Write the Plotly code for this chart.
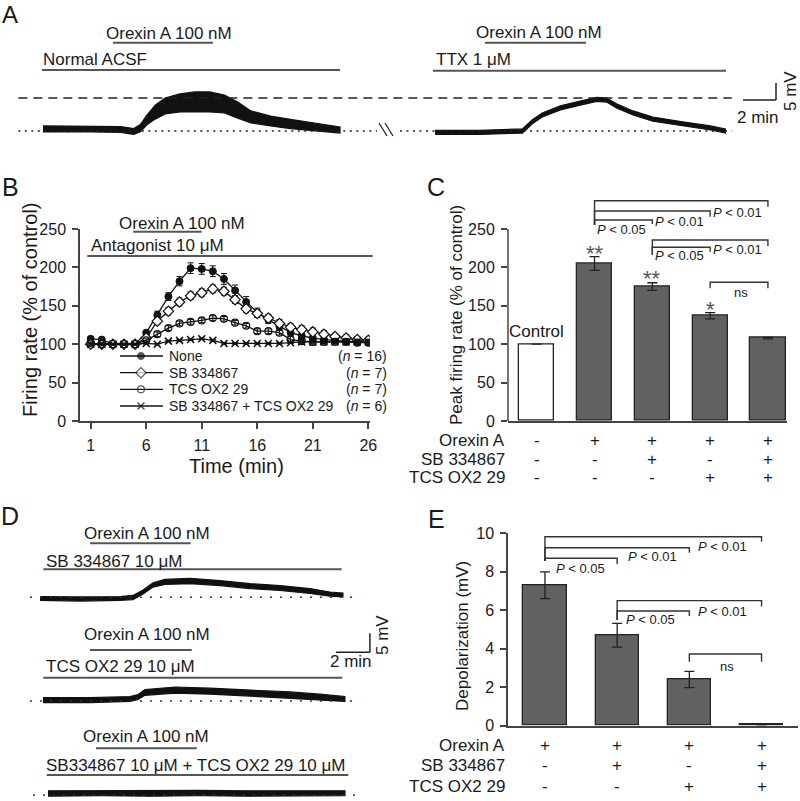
import plotly.graph_objects as go

W, H = 800, 801
FONT = "Liberation Sans, Arial, sans-serif"
INK = "#1a1a1a"
AX = "#444444"
BARGRAY = "#616161"
PROTO = "#555555"


def px(x):
    return x / W


def py(y):
    return 1 - y / H


# ---------------- DATA ----------------
# Panel A: membrane potential envelopes (mV relative to baseline) vs time (min)
a1_time = [0, 2.9, 4.7, 5.5, 5.9, 6.3, 6.8, 7.4, 8.3, 9.2, 10.1, 11.0, 11.8, 12.6, 13.8, 15.0, 16.2, 17.1, 18.0]
a1_upper = [1.5, 1.5, 1.3, 0.7, 1.9, 4.7, 7.6, 9.7, 10.9, 11.5, 11.5, 10.6, 8.5, 5.9, 4.4, 3.4, 2.6, 1.9, 1.2]
a1_lower = [-0.3, -0.3, -0.4, -1.0, -0.2, 1.8, 3.5, 5.0, 5.6, 5.6, 5.6, 5.3, 3.8, 2.4, 1.5, 0.7, 0.3, -0.2, -0.6]

a2_time = [0, 2.7, 5.3, 5.9, 6.5, 7.6, 8.8, 9.8, 10.4, 11.0, 12.0, 13.2, 15.0, 16.7, 17.6]
a2_upper = [0.2, 0.2, 0.6, 3.3, 5.3, 7.4, 8.8, 9.9, 9.7, 8.0, 5.9, 4.1, 2.7, 1.5, 0.6]
a2_lower = [-1.0, -1.0, -0.6, 2.1, 4.1, 6.2, 7.6, 8.7, 8.5, 6.8, 4.7, 2.9, 1.5, 0.3, -0.6]

# Panel B: firing rate (% of control) vs time (min)
b_time = list(range(1, 27))
b_none = [107, 106, 100, 100, 100, 115, 138, 162, 182, 199, 198, 195, 185, 170, 155, 141, 132, 123, 115, 111, 108, 106, 105, 104, 103, 103]
b_none_err = [3, 3, 1, 1, 1, 3, 5, 5, 6, 7, 7, 7, 7, 7, 7, 6, 5, 5, 5, 5, 5, 5, 4, 4, 3, 3]
b_sb = [100, 100, 100, 100, 100, 108, 130, 143, 155, 163, 167, 172, 169, 158, 146, 140, 134, 127, 122, 119, 116, 113, 110, 108, 106, 105]
b_sb_err = [2, 2, 1, 1, 1, 3, 4, 5, 5, 5, 5, 5, 5, 5, 5, 5, 5, 5, 5, 5, 5, 5, 4, 4, 4, 4]
b_tcs = [101, 100, 100, 100, 100, 105, 113, 121, 127, 129, 131, 134, 133, 128, 124, 117, 117, 115, 106, 104, 103, 103, 103, 103, 102, 102]
b_tcs_err = [2, 2, 1, 1, 1, 2, 3, 3, 3, 3, 3, 3, 3, 3, 3, 3, 3, 3, 5, 4, 4, 3, 3, 3, 3, 3]
b_both = [100, 100, 100, 100, 100, 101, 100, 104, 105, 106, 107, 105, 101, 101, 101, 101, 101, 101, 102, 103, 103, 103, 103, 103, 103, 103]
b_both_err = [1, 1, 1, 1, 1, 1, 1, 1, 1, 1, 1, 1, 1, 1, 1, 1, 1, 1, 1, 1, 1, 1, 1, 1, 1, 1]
b_names = ["None", "SB 334867", "TCS OX2 29", "SB 334867 + TCS OX2 29"]
b_n = ["16", "7", "7", "6"]
b_xticks = [1, 6, 11, 16, 21, 26]
b_yticks = [0, 50, 100, 150, 200, 250]

# Panel C: peak firing rate (% of control)
c_peak = [100, 205, 175, 137, 108]
c_err = [0, 9, 5, 4, 1]
c_stars = ["", "**", "**", "*", ""]
c_rows = ["Orexin A", "SB 334867", "TCS OX2 29"]
c_signs = [["-", "+", "+", "+", "+"],
           ["-", "-", "+", "-", "+"],
           ["-", "-", "-", "+", "+"]]
c_yticks = [0, 50, 100, 150, 200, 250]
# comparisons: (from bar, to bar, label)
c_pairs = [(1, 4, "P < 0.01"), (1, 3, "P < 0.01"), (1, 2, "P < 0.05"),
           (2, 4, "P < 0.01"), (2, 3, "P < 0.05"), (3, 4, "ns")]

# Panel D: membrane potential envelopes (mV) vs time (min)
d1_time = [0, 2.35, 4.71, 5.47, 6.06, 6.65, 7.35, 8.82, 10.59, 12.35, 14.12, 15.88, 17.06, 17.82]
d1_upper = [0.2, 0.1, 0.2, 0.5, 1.9, 3.8, 4.7, 5.0, 4.4, 3.6, 3.1, 2.3, 1.4, 1.1]
d1_lower = [-0.8, -1.0, -0.8, -0.6, 0.9, 2.7, 3.4, 3.6, 3.1, 2.3, 1.8, 1.0, 0.3, 0.1]
d2_time = [0, 2.76, 5.12, 5.59, 6.0, 7.76, 9.82, 12.18, 14.53, 16.29, 17.76]
d2_upper = [0.9, 0.9, 1.2, 1.7, 3.0, 3.7, 3.4, 2.9, 2.4, 1.8, 1.2]
d2_lower = [-0.4, -0.4, -0.1, 0.4, 1.5, 2.1, 1.8, 1.3, 0.8, 0.3, -0.1]
d3_time = [0, 3.06, 6.0, 8.94, 11.88, 14.82, 17.47]
d3_upper = [1.1, 1.2, 1.1, 1.2, 1.1, 1.2, 1.1]
d3_lower = [-0.3, -0.2, -0.3, -0.2, -0.3, -0.3, -0.2]

# Panel E: depolarization (mV)
e_depol = [7.3, 4.7, 2.4, 0.08]
e_err = [0.7, 0.62, 0.42, 0.03]
e_signs = [["+", "+", "+", "+"],
           ["-", "+", "-", "+"],
           ["-", "-", "+", "+"]]
e_yticks = [0, 2, 4, 6, 8, 10]
e_pairs = [(0, 3, "P < 0.01"), (0, 2, "P < 0.01"), (0, 1, "P < 0.05"),
           (1, 3, "P < 0.01"), (1, 2, "P < 0.05"), (2, 3, "ns")]

# ---------------- LAYOUT HELPERS ----------------
shapes = []
annotations = []


def seg(x0, y0, x1, y1, color=PROTO, width=2, dash=None, xref="paper", yref="paper"):
    line = dict(color=color, width=width)
    if dash:
        line["dash"] = dash
    shapes.append(dict(type="line", xref=xref, yref=yref, x0=x0, y0=y0, x1=x1, y1=y1, line=line, layer="above"))


def pseg(x0, y0, x1, y1, **kw):
    seg(px(x0), py(y0), px(x1), py(y1), **kw)


def ann(text, x, y, size=17, xanchor="left", yanchor="middle", xref="paper", yref="paper",
        angle=0, color=INK, xshift=0, yshift=0):
    annotations.append(dict(text=text, x=x, y=y, xref=xref, yref=yref, showarrow=False,
                            font=dict(family=FONT, size=size, color=color),
                            xanchor=xanchor, yanchor=yanchor, textangle=angle,
                            borderpad=0, xshift=xshift, yshift=yshift))


def pann(text, x, y, **kw):
    ann(text, px(x), py(y), **kw)


def band(t, up, lo, off_t, off_v, xa, ya):
    xs = [v + off_t for v in t] + [v + off_t for v in reversed(t)]
    ys = [v + off_v for v in up] + [v + off_v for v in reversed(lo)]
    return go.Scatter(x=xs, y=ys, xaxis=xa, yaxis=ya, mode="lines", fill="toself",
                      fillcolor="#111111", line=dict(color="#111111", width=1.2),
                      hoverinfo="skip", showlegend=False)


def bracket(xr, yr, x0, x1, ytop, yl, yr_):
    shapes.append(dict(type="path", xref=xr, yref=yr,
                       path=f"M {x0},{yl} L {x0},{ytop} L {x1},{ytop} L {x1},{yr_}",
                       line=dict(color="#333333", width=1.4), layer="above"))


fig = go.Figure()

# ---------------- PANEL A ----------------
A_OFF1 = 43 / 16.5
A_OFF2 = 435 / 16.5
fig.add_trace(band(a1_time, a1_upper, a1_lower, A_OFF1, 0, "x3", "y3"))
fig.add_trace(band(a2_time, a2_upper, a2_lower, A_OFF2, 0, "x3", "y3"))
seg(1.11, 9.7, 44.35, 9.7, color="#222", width=1.6, dash="9px,6px", xref="x3", yref="y3")
seg(1.11, 0, 22.85, 0, color="#222", width=1.6, dash="2px,4.5px", xref="x3", yref="y3")
seg(24.24, 0, 44.35, 0, color="#222", width=1.6, dash="2px,4.5px", xref="x3", yref="y3")
pseg(379, 123, 387, 136, color="#222", width=1.3)
pseg(385, 123, 393, 136, color="#222", width=1.3)
# scale bar
seg(45.03, 9.12, 47.03, 9.12, color="#222", width=1.5, xref="x3", yref="y3")
seg(47.03, 9.12, 47.03, 14.12, color="#222", width=1.5, xref="x3", yref="y3")
pann("2 min", 757.5, 117.5, xanchor="center")
pann("5 mV", 790, 91, xanchor="center", angle=-90)
ann("A", px(10), 1, size=24, xanchor="center", yanchor="top")
pann("Orexin A 100 nM", 105, 34)
pseg(113, 42.7, 213, 42.7)
pann("Normal ACSF", 42, 60)
pseg(42, 70, 340, 70)
pann("Orexin A 100 nM", 475, 33)
pseg(485, 42.7, 586, 42.7)
pann("TTX 1 μM", 435, 59.5)
pseg(433, 70.7, 726, 70.7)

# ---------------- PANEL B ----------------
b_series = [
    (b_none, b_none_err, dict(symbol="circle", size=7, color="#111", line=dict(color="#111", width=1))),
    (b_sb, b_sb_err, dict(symbol="diamond", size=8, color="white", line=dict(color="#111", width=1.2))),
    (b_tcs, b_tcs_err, dict(symbol="circle-open", size=7, color="#111", line=dict(color="#111", width=1.2))),
    (b_both, b_both_err, dict(symbol="x-thin-open", size=7, color="#111", line=dict(color="#111", width=1.5))),
]
for vals, errs, mk in b_series:
    fig.add_trace(go.Scatter(x=b_time, y=vals, xaxis="x", yaxis="y", mode="lines+markers",
                             line=dict(color="#111", width=1.3), marker=mk,
                             error_y=dict(type="data", array=errs, color="#111", thickness=1, width=3),
                             showlegend=False, hoverinfo="skip"))
# manual legend
leg_y_px = [356, 372.7, 389.3, 406]
for (vals, errs, mk), name, n, ly in zip(b_series, b_names, b_n, leg_y_px):
    yv = (421 - ly) / 0.768
    fig.add_trace(go.Scatter(x=[3.64, 5.53, 7.51], y=[yv] * 3, xaxis="x", yaxis="y",
                             mode="lines+markers", line=dict(color="#111", width=1.3),
                             marker=dict(mk, size=[0, mk["size"], 0]),
                             showlegend=False, hoverinfo="skip"))
    pann(name, 168, ly, size=14)
    pann(f"(<i>n</i> = {n})", 388, ly, size=14, xanchor="right")
pann("B", 10, 186.5, size=25, xanchor="center")
pann("Orexin A 100 nM", 118, 223)
pseg(133.3, 231.7, 201.7, 231.7)
pann("Antagonist 10 μM", 90, 245)
pseg(87.3, 256, 372.7, 256)
pann("Time (min)", 236, 466, size=20, xanchor="center")
pann("Firing rate (% of control)", 30, 310, size=20, xanchor="center", angle=-90)

# ---------------- PANEL C ----------------
fig.add_trace(go.Bar(x=list(range(len(c_peak))), y=c_peak, width=0.61, xaxis="x2", yaxis="y2",
                     marker=dict(color=["white"] + [BARGRAY] * 4, line=dict(color="#222", width=1.3)),
                     error_y=dict(type="data", array=c_err, color="#222", thickness=1.3, width=5),
                     showlegend=False, hoverinfo="skip"))
pseg(508, 421, 508, 229, color=AX, width=1.5)
c_br_geom = [(286.8, 255.2, 279.0), (273.4, 255.2, 266.0), (261.7, 255.2, 256.5),
             (235.7, 216.1, 227.9), (226.2, 216.1, 220.4), (180.6, 172.8, 172.8)]
c_lab_geom = [(3.92, 271.2), (2.91, 259.5), (1.90, 249.5), (3.92, 223.6), (2.91, 215.0), (3.53, 167.1)]
for (a, b, lab), (yt, yl, yr_), (lx, ly) in zip(c_pairs, c_br_geom, c_lab_geom):
    bracket("x2", "y2", a, b, yt, yl, yr_)
    if lab == "ns":
        ann("ns", lx, ly, size=13, xanchor="center", xref="x2", yref="y2")
    else:
        ann("<i>P</i> &lt; " + lab.split("< ")[1], lx, ly, size=13, xanchor="right", xref="x2", yref="y2")
star_y = [0, 229, 196.6, 156, 0]
for i, s in enumerate(c_stars):
    if s:
        ann(s, i, star_y[i], size=22, xanchor="center", xref="x2", yref="y2", color="#555", yshift=-8)
ann("Control", 0, 116.3, size=17, xanchor="center", xref="x2", yref="y2")
row_y_c = [440, 459.3, 477.3]
for lab, signs, ry in zip(c_rows, c_signs, row_y_c):
    pann(lab, 506, ry, xanchor="right")
    for i, s in enumerate(signs):
        ann(s, i, py(ry), size=17, xanchor="center", xref="x2", yref="paper")
pann("C", 436, 186.5, size=25, xanchor="center")
pann("Peak firing rate (% of control)", 456, 315, size=17, xanchor="center", angle=-90)

# ---------------- PANEL D ----------------
D_TOFF = [40 / 17, 43 / 17, 48 / 17]
D_VOFF = [53.6, 26.3, 1.58]
for (t, up, lo), to, vo in zip([(d1_time, d1_upper, d1_lower), (d2_time, d2_upper, d2_lower),
                                (d3_time, d3_upper, d3_lower)], D_TOFF, D_VOFF):
    fig.add_trace(band(t, up, lo, to, vo, "x4", "y4"))
seg(1.76, 53.6, 21.18, 53.6, color="#333", width=1.6, dash="2px,8px", xref="x4", yref="y4")
seg(1.76, 26.3, 21.18, 26.3, color="#333", width=1.6, dash="2px,8px", xref="x4", yref="y4")
seg(1.94, 1.58, 21.18, 1.58, color="#333", width=1.6, dash="2px,8px", xref="x4", yref="y4")
seg(19.76, 39.13, 21.76, 39.13, color="#222", width=1.5, xref="x4", yref="y4")
seg(21.76, 39.13, 21.76, 44.13, color="#222", width=1.5, xref="x4", yref="y4")
pann("2 min", 351, 661.7, xanchor="center")
pann("5 mV", 382, 635, xanchor="center", angle=-90)
pann("D", 10, 516, size=25, xanchor="center")
pann("Orexin A 100 nM", 83, 533)
pseg(90, 543.3, 190.7, 543.3)
pann("SB 334867 10 μM", 45, 561)
pseg(43.3, 569.3, 341.7, 569.3)
pann("Orexin A 100 nM", 83, 634)
pseg(90, 650, 191.7, 650)
pann("TCS OX2 29 10 μM", 45, 666)
pseg(43.3, 677.7, 342.3, 677.7)
pann("Orexin A 100 nM", 82, 736.7)
pseg(96, 748.3, 196.7, 748.3)
pann("SB334867 10 μM + TCS OX2 29 10 μM", 45, 765)
pseg(46.7, 775, 348.3, 775)

# ---------------- PANEL E ----------------
fig.add_trace(go.Bar(x=list(range(len(e_depol))), y=e_depol, width=0.6, xaxis="x5", yaxis="y5",
                     marker=dict(color=BARGRAY, line=dict(color="#222", width=1.3)),
                     error_y=dict(type="data", array=e_err, color="#222", thickness=1.3, width=5),
                     showlegend=False, hoverinfo="skip"))
e_br_geom = [(9.82, 8.56, 9.56), (9.25, 8.56, 8.99), (8.70, 8.56, 8.40),
             (6.50, 5.49, 6.19), (5.96, 5.49, 5.70), (3.73, 3.33, 3.33)]
e_lab_geom = [(2.81, 9.30), (1.84, 8.78), (0.85, 8.18), (2.81, 5.93), (1.82, 5.53), (2.52, 3.10)]
for (a, b, lab), (yt, yl, yr_), (lx, ly) in zip(e_pairs, e_br_geom, e_lab_geom):
    bracket("x5", "y5", a, b, yt, yl, yr_)
    if lab == "ns":
        ann("ns", lx, ly, size=13, xanchor="center", xref="x5", yref="y5")
    else:
        ann("<i>P</i> &lt; " + lab.split("< ")[1], lx, ly, size=13, xanchor="right", xref="x5", yref="y5")
row_y_e = [745.7, 765.7, 786.7]
for lab, signs, ry in zip(c_rows, e_signs, row_y_e):
    pann(lab, 506, ry, xanchor="right")
    for i, s in enumerate(signs):
        ann(s, i, py(ry), size=17, xanchor="center", xref="x5", yref="paper")
pann("E", 436, 518.5, size=25, xanchor="center")
pann("Depolarization (mV)", 462, 636, size=17, xanchor="center", angle=-90)

# ---------------- AXES ----------------
tick_common = dict(ticks="outside", ticklen=6, tickwidth=1.5, tickcolor=AX,
                   tickfont=dict(family=FONT, size=16, color=INK), showgrid=False,
                   zeroline=False, ticklabelstandoff=3, automargin=False)
hidden = dict(visible=False, showgrid=False, zeroline=False, fixedrange=True, automargin=False)
plain = dict(showgrid=False, zeroline=False, automargin=False)

fig.update_layout(
    template="none",
    width=W, height=H, margin=dict(l=0, r=0, t=0, b=0, pad=0, autoexpand=False),
    paper_bgcolor="white", plot_bgcolor="rgba(0,0,0,0)", showlegend=False,
    font=dict(family=FONT, color=INK),
    xaxis=dict(domain=[px(80), px(370)], range=[0.04, 26.15], tickvals=b_xticks,
               showline=True, linecolor=AX, linewidth=1.5, anchor="y", **tick_common),
    yaxis=dict(domain=[py(421), py(229)], range=[0, 250], tickvals=b_yticks,
               showline=True, linecolor=AX, linewidth=1.5, anchor="x", **tick_common),
    xaxis2=dict(domain=[px(508), px(787)], range=[-0.497, 4.33], showticklabels=False, ticks="",
                showline=True, linecolor=AX, linewidth=1.5, anchor="y2", **plain),
    yaxis2=dict(domain=[py(421), py(190.6)], range=[0, 300], tickvals=c_yticks,
                showline=False, anchor="x2", **tick_common),
    xaxis3=dict(domain=[0, 1], range=[0, 800 / 16.5], anchor="y3", **hidden),
    yaxis3=dict(domain=[py(145), py(80)], range=[-14 / 3.4, 51 / 3.4], anchor="x3", **hidden),
    xaxis4=dict(domain=[0, 0.5], range=[0, 400 / 17], anchor="y4", **hidden),
    yaxis4=dict(domain=[0, py(570)], range=[0, 231 / 3.8], anchor="x4", **hidden),
    xaxis5=dict(domain=[px(508), px(798)], range=[-0.512, 3.505], showticklabels=False, ticks="",
                showline=True, linecolor=AX, linewidth=1.5, anchor="y5", **plain),
    yaxis5=dict(domain=[py(725.7), py(533.3)], range=[0, 10], tickvals=e_yticks,
                showline=True, linecolor=AX, linewidth=1.5, anchor="x5", **tick_common),
    shapes=shapes, annotations=annotations, bargap=0,
)

fig.write_html("out.html", config={"displayModeBar": False},
               post_script="document.body.style.margin='0px';document.body.style.overflow='hidden';")
